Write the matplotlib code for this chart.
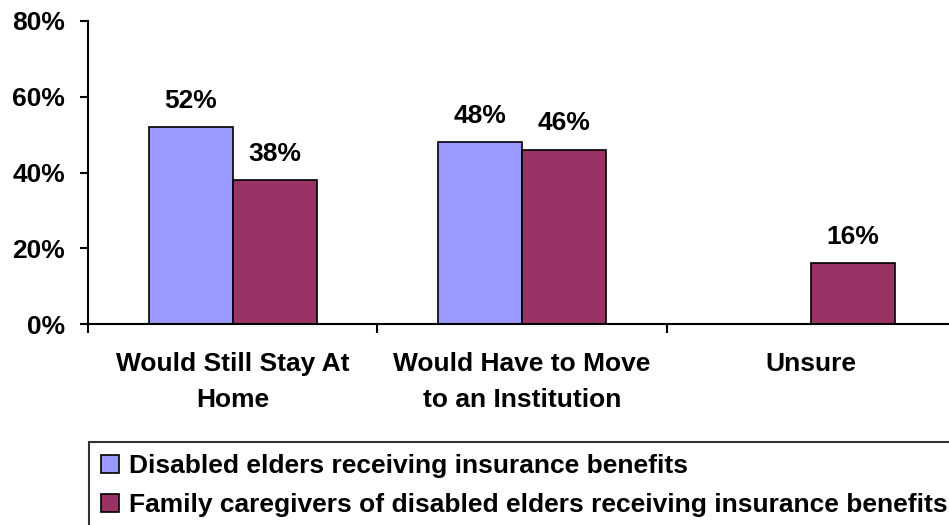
import matplotlib.pyplot as plt
import numpy as np

plt.rcParams['font.family'] = ['Liberation Sans', 'DejaVu Sans']
plt.rcParams['font.weight'] = 'bold'

categories = ["Would Still Stay At\nHome", "Would Have to Move\nto an Institution", "Unsure"]
elders = [52, 48, None]
caregivers = [38, 46, 16]
series_names = ["Disabled elders receiving insurance benefits",
                "Family caregivers of disabled elders receiving insurance benefits"]
yticks = [0, 20, 40, 60, 80]

FS = 19

fig = plt.figure(figsize=(9.49, 5.25), dpi=100)
# axes runs a bit past the right edge, like the original
ax = fig.add_axes([88/949, 1 - 324/525, 868/949, 303/525])

x = np.arange(len(categories))
w = 0.29
e_x = [xi - w/2 for xi, v in zip(x, elders) if v is not None]
e_v = [v for v in elders if v is not None]
b1 = ax.bar(e_x, e_v, w, color='#9999FF', edgecolor='black', linewidth=1.2,
            label=series_names[0])
b2 = ax.bar(x + w/2, caregivers, w, color='#993366', edgecolor='black', linewidth=1.2,
            label=series_names[1])

for bx, v in list(zip(e_x, e_v)) + list(zip(x + w/2, caregivers)):
    ax.annotate(f"{v}%", (bx, v), xytext=(0, 14), textcoords='offset points',
                ha='center', va='baseline', fontsize=FS, fontweight='bold')

ax.set_xlim(-0.5, 2.5)
ax.set_ylim(0, 80)
ax.set_yticks(yticks)
ax.set_yticklabels([f"{t}%" for t in yticks], fontsize=FS, fontweight='bold')
ax.set_xticks([-0.5, 0.5, 1.5, 2.5])
ax.set_xticklabels([])
ax.set_xticks(x, minor=True)
ax.set_xticklabels(categories, minor=True, fontsize=FS, fontweight='bold', linespacing=1.62)
ax.tick_params(axis='x', which='minor', length=0, pad=20)
ax.tick_params(axis='x', which='major', length=6.5, width=1.5, direction='out')
ax.tick_params(axis='y', length=6, width=1.5, direction='out', pad=10.5)

for s in ['top', 'right']:
    ax.spines[s].set_visible(False)
for s in ['left', 'bottom']:
    ax.spines[s].set_linewidth(1.5)

leg = fig.legend(handles=[b1, b2], loc='upper left', bbox_to_anchor=(89/949, 1 - 442/525),
                 prop={'weight': 'bold', 'size': FS}, frameon=True, fancybox=False,
                 edgecolor='black', handlelength=0.68, handleheight=0.68, handletextpad=0.4,
                 labelspacing=0.58, borderpad=0.45, borderaxespad=0)
leg.get_frame().set_linewidth(1.5)

fig.savefig("out.png", dpi=100)
